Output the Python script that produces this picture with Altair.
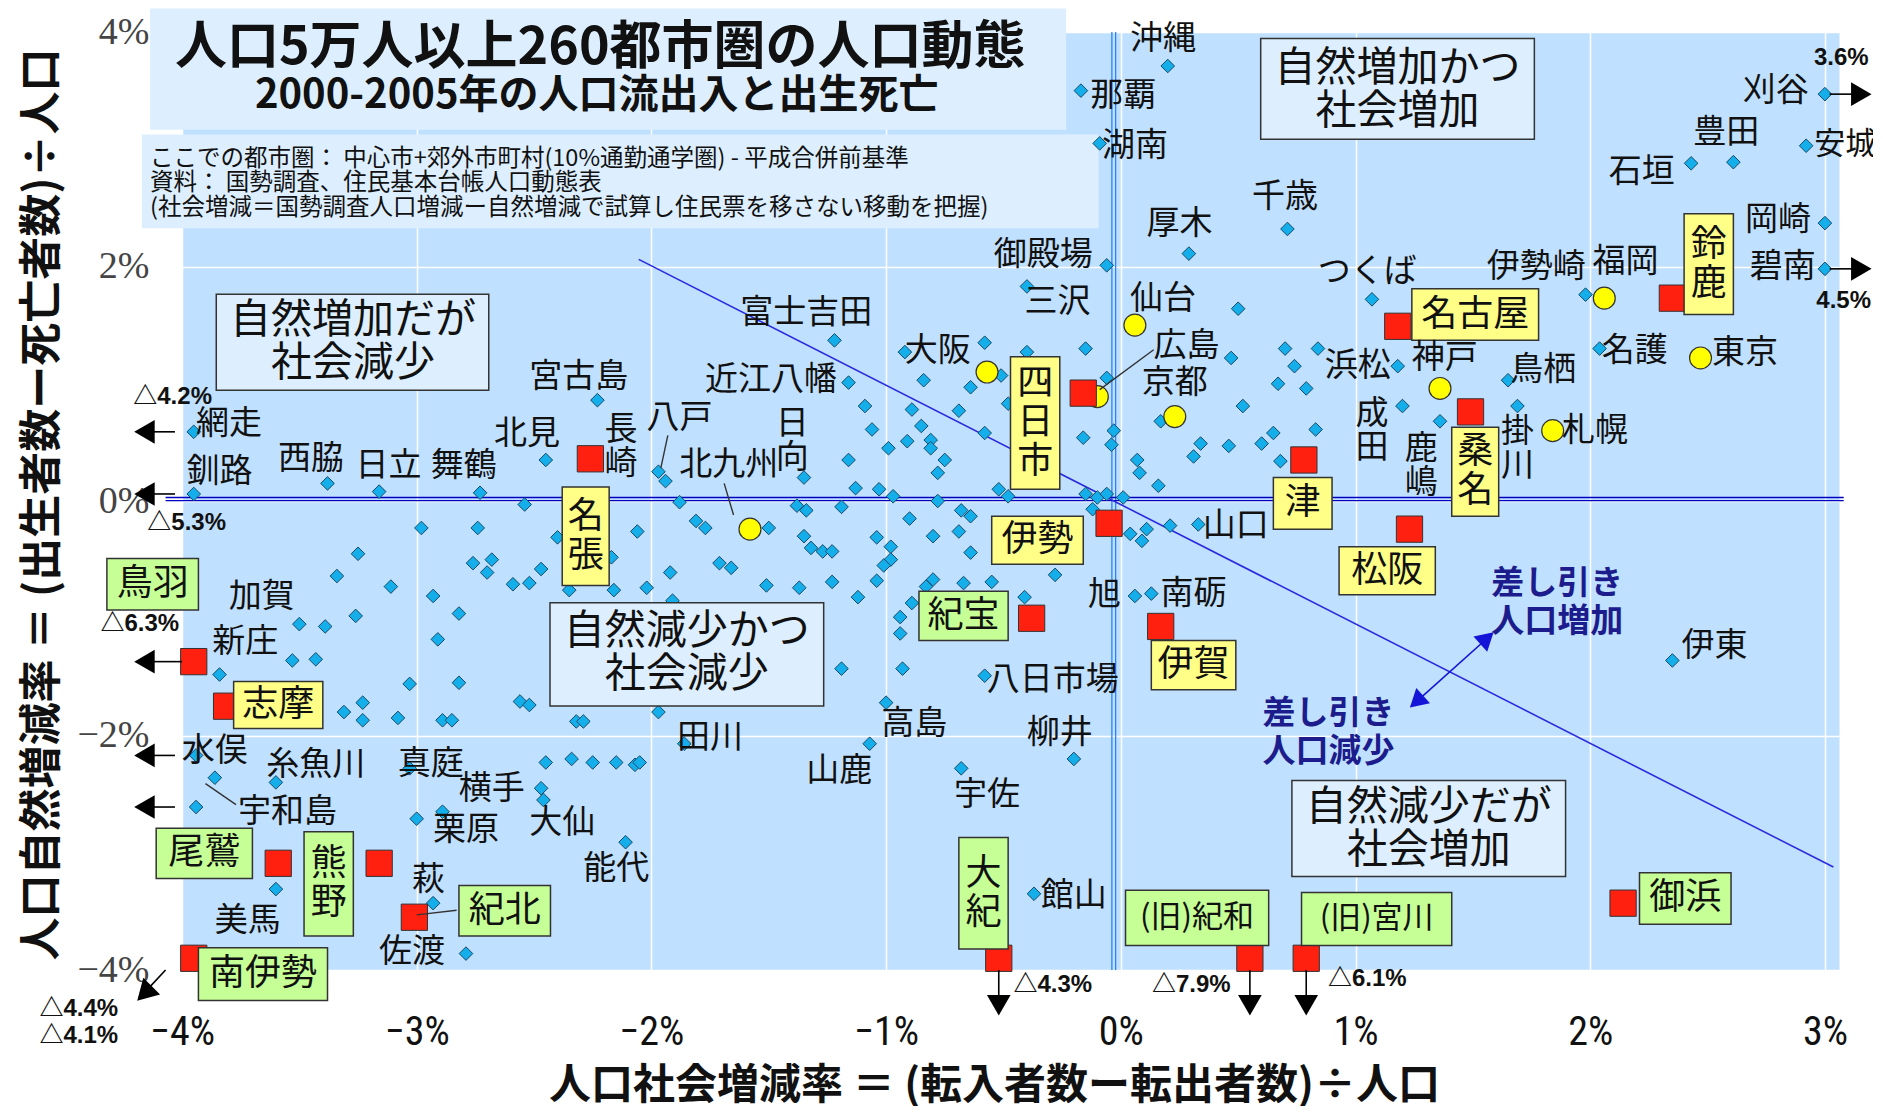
import altair as alt
import pandas as pd

JP = "Noto Sans CJK JP"
NARROW = "'Liberation Sans Narrow', 'Arial Narrow', 'Roboto Condensed', 'DejaVu Sans Condensed', 'Liberation Sans', sans-serif"
XS = alt.Scale(domain=[-4.0, 3.06], nice=False, zero=False)
YS = alt.Scale(domain=[-4.0, 4.0], nice=False, zero=False)
PLOT_W, PLOT_H = 1657, 938
Y_PER_PX = 8.0 / PLOT_H  # data units of y per pixel

# ---------------- data (social change %, natural change %) ----------------
diamonds = [
    (0.20, 3.71), (-0.17, 3.50), (-0.09, 3.05), (0.71, 2.32), (0.29, 2.11), (-0.06, 2.01),
    (-0.40, 1.83), (0.50, 1.64), (1.07, 1.72), (1.98, 1.76), (3.00, 1.98), (3.00, 2.37),
    (2.92, 3.03), (2.43, 2.88), (2.61, 2.89), (3.00, 3.47), (2.04, 1.30), (1.65, 1.03),
    (1.18, 1.15), (1.69, 0.81), (1.20, 0.81), (1.36, 0.68), (0.83, 0.61), (-1.22, 1.37),
    (-0.92, 1.27), (-0.58, 1.35), (-0.15, 1.30), (-0.40, 1.27), (-0.06, 1.05), (-1.16, 1.01),
    (-0.84, 1.03), (-0.64, 0.97), (-0.51, 1.07), (0.47, 1.22), (0.70, 1.30), (0.84, 1.30),
    (0.74, 1.15), (0.67, 1.00), (0.79, 0.96), (-1.09, 0.81), (-0.89, 0.78), (-0.69, 0.77),
    (-0.48, 0.83), (-1.06, 0.61), (-0.85, 0.64), (-0.58, 0.58), (-0.16, 0.54), (-0.03, 0.60),
    (-0.04, 0.48), (0.17, 0.68), (0.07, 0.35), (0.08, 0.24), (0.16, 0.13), (0.31, 0.38),
    (0.34, 0.49), (0.46, 0.47), (0.52, 0.81), (0.60, 0.49), (0.65, 0.58), (0.68, 0.34),
    (-0.81, 0.52), (-0.81, 0.45), (-0.75, 0.35), (-0.99, 0.45), (-0.91, 0.51), (-1.16, 0.35),
    (-1.35, 0.20), (-0.78, 0.24), (-1.13, 0.11), (-1.03, 0.10), (-0.97, 0.04), (-0.78, 0.00),
    (-0.52, 0.10), (-0.48, 0.04), (-0.15, 0.06), (-0.10, 0.03), (-0.06, 0.06), (0.01, 0.03),
    (-0.12, -0.07), (-1.38, -0.04), (-1.34, -0.08), (-1.19, -0.05), (-1.77, -0.23), (-1.50, -0.23),
    (-0.90, -0.15), (-0.68, -0.08), (-0.64, -0.13), (-0.69, -0.26), (-0.80, -0.30), (-0.64, -0.44),
    (-1.04, -0.31), (-0.98, -0.39), (-0.98, -0.50), (-1.01, -0.55), (-1.04, -0.68), (-1.35, -0.30),
    (-1.32, -0.40), (-1.27, -0.43), (-1.23, -0.43), (-1.71, -0.53), (-1.66, -0.57), (-1.51, -0.72),
    (-1.37, -0.74), (-1.23, -0.69), (-1.12, -0.82), (-0.80, -0.67), (-0.83, -0.73), (-0.67, -0.70),
    (-0.55, -0.69), (-0.28, -0.63), (-0.41, -0.82), (-0.89, -0.87), (-0.94, -0.99), (-0.94, -1.13),
    (-1.19, -1.43), (-0.93, -1.43), (-0.58, -1.49), (-1.00, -1.72), (-1.07, -2.07), (-0.68, -2.28),
    (-0.20, -2.20), (0.04, -0.28), (0.11, -0.24), (0.09, -0.34), (0.21, -0.21), (0.33, -0.20),
    (0.06, -0.81), (0.13, -0.79), (2.35, -1.36), (-0.37, -3.35),
    (-3.95, 0.59), (-3.95, 0.06), (-3.38, 0.15), (-3.16, 0.08), (-2.73, 0.07), (-2.45, 0.35),
    (-2.54, -0.03), (-1.97, 0.25), (-1.94, 0.17), (-1.88, -0.01), (-1.81, -0.17), (-2.98, -0.23),
    (-2.74, -0.23), (-2.40, -0.31), (-2.06, -0.26), (-2.17, -0.48), (-3.25, -0.45), (-2.76, -0.53),
    (-2.68, -0.50), (-2.70, -0.61), (-2.47, -0.58), (-2.59, -0.71), (-2.52, -0.70), (-3.34, -0.64),
    (-3.11, -0.73), (-2.93, -0.81), (-2.35, -0.76), (-2.16, -0.76), (-2.02, -0.74), (-1.92, -0.61),
    (-1.91, -0.85), (-3.50, -1.05), (-3.39, -1.07), (-3.26, -0.98), (-2.82, -0.96), (-2.91, -1.18),
    (-3.53, -1.36), (-3.43, -1.35), (-3.84, -1.48), (-3.31, -1.80), (-3.23, -1.72), (-3.23, -1.87),
    (-3.08, -1.85), (-3.03, -1.56), (-2.82, -1.55), (-2.89, -1.87), (-2.85, -1.87), (-2.56, -1.71),
    (-2.52, -1.74), (-2.32, -1.88), (-2.29, -1.88), (-1.97, -1.80), (-1.86, -2.07), (-3.94, -2.17),
    (-3.86, -2.36), (-3.60, -2.40), (-3.03, -2.28), (-2.45, -2.23), (-2.34, -2.20), (-2.25, -2.23),
    (-2.15, -2.23), (-2.07, -2.25), (-2.05, -2.23), (-2.47, -2.45), (-2.46, -2.55), (-3.94, -2.61),
    (-3.60, -3.31), (-3.00, -2.71), (-2.89, -2.65), (-2.11, -2.91), (-2.93, -3.43), (-2.79, -3.86),
    (-2.23, 0.86),
]

big_cities = ["仙台", "福岡", "東京", "神戸", "札幌", "大阪", "広島", "京都", "北九州"]
big_x = [0.06, 2.06, 2.47, 1.36, 1.84, -0.57, -0.10, 0.23, -1.58]
big_y = [1.50, 1.73, 1.22, 0.96, 0.60, 1.10, 0.89, 0.72, -0.24]

mie_cities = ["名古屋", "鈴鹿", "四日市", "桑名", "津", "松阪", "伊勢", "名張", "紀宝", "伊賀",
              "鳥羽", "志摩", "尾鷲", "熊野", "紀北", "南伊勢", "大紀", "紀和", "宮川", "御浜"]
mie_x = [1.18, 2.35, -0.16, 1.49, 0.78, 1.23, -0.05, -2.26, -0.38, 0.17,
         -3.95, -3.81, -3.59, -3.16, -3.01, -3.95, -0.52, 0.55, 0.79, 2.14]
mie_y = [1.49, 1.73, 0.92, 0.76, 0.35, -0.24, -0.19, 0.36, -1.00, -1.07,
         -1.37, -1.75, -3.09, -3.09, -3.55, -3.90, -3.90, -3.90, -3.90, -3.43]

city_labels = [
    ("沖縄", 0.18, 3.94), ("那覇", 0.01, 3.45), ("湖南", 0.06, 3.03), ("千歳", 0.70, 2.59),
    ("厚木", 0.25, 2.36), ("御殿場", -0.33, 2.10), ("三沢", -0.27, 1.70), ("仙台", 0.18, 1.72),
    ("つくば", 1.05, 1.95), ("富士吉田", -1.34, 1.60), ("大阪", -0.78, 1.28), ("広島", 0.28, 1.32),
    ("京都", 0.23, 1.01), ("宮古島", -2.31, 1.06), ("近江八幡", -1.49, 1.03), ("浜松", 1.01, 1.15),
    ("神戸", 1.38, 1.22), ("鳥栖", 1.80, 1.12), ("名護", 2.19, 1.28), ("東京", 2.66, 1.26),
    ("伊勢崎", 1.77, 2.00), ("福岡", 2.15, 2.04), ("石垣", 2.22, 2.81), ("豊田", 2.58, 3.14),
    ("刈谷", 2.79, 3.50), ("岡崎", 2.80, 2.40), ("碧南", 2.82, 2.00),
    ("札幌", 2.02, 0.60), ("掛\n川", 1.69, 0.44), ("成\n田", 1.07, 0.60), ("鹿\n嶋", 1.28, 0.30),
    ("網走", -3.80, 0.66), ("釧路", -3.84, 0.25), ("西脇", -3.45, 0.36), ("日立", -3.12, 0.30),
    ("舞鶴", -2.80, 0.30), ("北見", -2.53, 0.57), ("長\n崎", -2.13, 0.46), ("八戸", -1.88, 0.71),
    ("北九州", -1.67, 0.31), ("日\n向", -1.40, 0.51), ("山口", 0.49, -0.21), ("旭", -0.07, -0.80),
    ("南砺", 0.31, -0.79), ("八日市場", -0.29, -1.53), ("柳井", -0.26, -1.98), ("高島", -0.88, -1.90),
    ("山鹿", -1.20, -2.30), ("田川", -1.75, -2.02), ("宇佐", -0.57, -2.51), ("館山", -0.20, -3.37),
    ("伊東", 2.53, -1.24), ("加賀", -3.66, -0.82), ("新庄", -3.73, -1.20), ("水俣", -3.86, -2.13),
    ("糸魚川", -3.43, -2.25), ("真庭", -2.94, -2.24), ("横手", -2.68, -2.46), ("宇和島", -3.55, -2.65),
    ("栗原", -2.79, -2.81), ("大仙", -2.38, -2.75), ("萩", -2.95, -3.23), ("能代", -2.15, -3.14),
    ("美馬", -3.72, -3.58), ("佐渡", -3.02, -3.85),
]
edge_labels = [("安城", 2.955, 3.04)]  # left-aligned next to its point at the right edge

leaders = [(-1.69, 0.15, -1.65, -0.12), (-1.93, 0.56, -1.96, 0.28), (-3.90, -2.41, -3.77, -2.59),
           (0.14, 1.29, -0.09, 0.95), (-3.00, -3.53, -2.83, -3.49)]

YEL, GRN = "#ffff88", "#c6ff96"
boxed = [  # text, x1, x2, y1, y2, tx, ty, fill, size
    ("名古屋", 1.24, 1.78, 1.81, 1.37, 1.51, 1.59, YEL, 36),
    ("鈴\n鹿", 2.40, 2.61, 2.45, 1.59, 2.505, 2.02, YEL, 36),
    ("四\n日\n市", -0.47, -0.26, 1.23, 0.10, -0.365, 0.665, YEL, 36),
    ("桑\n名", 1.41, 1.61, 0.63, -0.13, 1.51, 0.25, YEL, 36),
    ("津", 0.65, 0.90, 0.20, -0.24, 0.775, -0.02, YEL, 36),
    ("松阪", 0.93, 1.34, -0.39, -0.80, 1.135, -0.595, YEL, 36),
    ("伊勢", -0.55, -0.16, -0.13, -0.54, -0.355, -0.335, YEL, 36),
    ("名\n張", -2.38, -2.18, 0.12, -0.72, -2.28, -0.30, YEL, 36),
    ("伊賀", 0.13, 0.49, -1.19, -1.61, 0.31, -1.40, YEL, 36),
    ("志摩", -3.78, -3.40, -1.54, -1.94, -3.59, -1.74, YEL, 36),
    ("鳥羽", -4.32, -3.93, -0.49, -0.93, -4.125, -0.71, GRN, 36),
    ("紀宝", -0.86, -0.48, -0.77, -1.19, -0.67, -0.98, GRN, 36),
    ("尾鷲", -4.11, -3.70, -2.79, -3.22, -3.905, -3.005, GRN, 36),
    ("熊\n野", -3.48, -3.27, -2.82, -3.71, -3.375, -3.265, GRN, 36),
    ("紀北", -2.82, -2.43, -3.28, -3.71, -2.625, -3.495, GRN, 36),
    ("南伊勢", -3.93, -3.38, -3.81, -4.26, -3.655, -4.035, GRN, 36),
    ("大\n紀", -0.69, -0.48, -2.87, -3.82, -0.585, -3.345, GRN, 36),
    ("(旧)紀和", 0.02, 0.63, -3.32, -3.79, 0.325, -3.555, GRN, 31),
    ("(旧)宮川", 0.77, 1.41, -3.34, -3.79, 1.09, -3.565, GRN, 31),
    ("御浜", 2.21, 2.60, -3.17, -3.61, 2.405, -3.39, GRN, 36),
]

quadrants = [  # text, x1, x2, y1, y2, tx, ty
    ("自然増加かつ\n社会増加", 0.596, 1.762, 3.945, 3.085, 1.179, 3.50),
    ("自然増加だが\n社会減少", -3.854, -2.693, 1.764, 0.944, -3.271, 1.354),
    ("自然減少かつ\n社会減少", -2.432, -1.266, -0.868, -1.749, -1.849, -1.30),
    ("自然減少だが\n社会増加", 0.729, 1.895, -2.384, -3.203, 1.312, -2.80),
]

# off-scale arrows: shaft (x1, y1, x2, y2) and head (x, y, angle)
arrow_shafts = [(-4.03, 0.59, -4.13, 0.59), (-4.03, 0.06, -4.13, 0.06), (-4.0, -1.37, -4.13, -1.37),
                (-4.03, -2.17, -4.13, -2.17), (-4.03, -2.61, -4.13, -2.61),
                (3.02, 3.47, 3.12, 3.47), (3.02, 1.98, 3.12, 1.98),
                (-0.52, -4.0, -0.52, -4.22), (0.55, -4.0, 0.55, -4.22), (0.79, -4.0, 0.79, -4.22),
                (-4.07, -4.0, -4.14, -4.15)]
arrow_heads = [(-4.16, 0.59, 270), (-4.16, 0.06, 270), (-4.16, -1.37, 270), (-4.16, -2.17, 270),
               (-4.16, -2.61, 270), (3.155, 3.47, 90), (3.155, 1.98, 90),
               (-0.52, -4.30, 180), (0.55, -4.30, 180), (0.79, -4.30, 180), (-4.16, -4.20, 225)]
offscale_text = [("△4.2%", -4.04, 0.89), ("△5.3%", -3.98, -0.19), ("△6.3%", -4.18, -1.05),
                 ("3.6%", 3.07, 3.78), ("4.5%", 3.08, 1.71), ("△4.3%", -0.29, -4.13),
                 ("△7.9%", 0.30, -4.13), ("△6.1%", 1.05, -4.08), ("△4.4%", -4.44, -4.33),
                 ("△4.1%", -4.44, -4.56)]

net_line = [(-2.054, 2.061, 3.036, -3.122)]
hlines = [(-4.07, 0.03, 3.08, 0.03), (-4.07, 0.003, 3.08, 0.003)]
vlines = [(-0.038, 4.0, -0.038, -4.0), (-0.022, 4.0, -0.022, -4.0)]
blue_shaft = [(1.236, -1.754, 1.585, -1.128)]
blue_heads = [(1.56, -1.17, 48), (1.26, -1.71, 228)]
blue_text = [("差し引き\n人口増加", 1.86, -0.87), ("差し引き\n人口減少", 0.885, -1.98)]

title_box = [(-4.136, -0.233, 4.20, 3.167), (-4.171, -0.095, 3.126, 2.327)]
title_text = [("人口5万人以上260都市圏の人口動態", -2.218, 3.863, 52),
              ("2000-2005年の人口流出入と出生死亡", -2.233, 3.454, 40)]
note_lines = [("ここでの都市圏： 中心市+郊外市町村(10%通勤通学圏) - 平成合併前基準", -4.136, 2.921),
              ("資料： 国勢調査、住民基本台帳人口動態表", -4.136, 2.716),
              ("(社会増減＝国勢調査人口増減ー自然増減で試算し住民票を移さない移動を把握)", -4.136, 2.501)]

x_ticks = [-4, -3, -2, -1, 0, 1, 2, 3]
y_ticks = [-4, -2, 0, 2, 4]
X_TITLE = "人口社会増減率 ＝ (転入者数ー転出者数)÷人口"
Y_TITLE = "人口自然増減率 ＝ (出生者数ー死亡者数)÷人口"

LE = "datum.value == 0 ? '0%' : (datum.value < 0 ? '−' + abs(datum.value) + '%' : datum.value + '%')"

XAX = alt.Axis(values=x_ticks, labelExpr=LE, grid=True, gridColor="#ffffff", gridWidth=1.5,
               ticks=False, domain=False, labelFont=NARROW, labelFontSize=40,
               labelColor="#111111", labelPadding=62, labelBaseline="middle", labelFlush=False,
               labelOverlap=False, title=X_TITLE, titleFont=JP, titleFontSize=42,
               titleFontWeight="bold", titleX=812, titleY=115, titleAlign="center",
               titleBaseline="middle", titleColor="#111111")
YAX = alt.Axis(values=y_ticks, labelExpr=LE, grid=True, gridColor="#ffffff", gridWidth=1.5,
               ticks=False, domain=False, labelFont="Liberation Serif", labelFontSize=38,
               labelColor="#444444", labelPadding=33, labelFlush=False, labelOverlap=False,
               title=Y_TITLE, titleFont=JP, titleFontSize=43, titleFontWeight="bold",
               titleX=-140, titleY=472, titleAlign="center", titleBaseline="middle",
               titleAngle=270, titleColor="#111111")


# ---------------- helpers ----------------
def enc(ch, x="x", y="y", x2=None, y2=None, **extra):
    e = {"x": alt.X(f"{x}:Q", scale=XS, axis=XAX), "y": alt.Y(f"{y}:Q", scale=YS, axis=YAX)}
    if x2:
        e["x2"] = alt.X2(x2)
    if y2:
        e["y2"] = alt.Y2(y2)
    e.update(extra)
    return ch.encode(**e)


def seg_df(rows):
    return pd.DataFrame(rows, columns=["x", "y", "x2", "y2"])


def center_lines(df, ycol, lh):
    """Vega places the first line at the anchor; shift so the block is centred."""
    df = df.copy()
    n = df["t"].str.count("\n")
    df[ycol] = df[ycol] + n * (lh / 2.0) * Y_PER_PX
    return df


layers = []

# title / note boxes
tb = pd.DataFrame(title_box, columns=["x", "x2", "y", "y2"])
layers.append(enc(alt.Chart(tb).mark_rect(fill="#ddefff"), x2="x2", y2="y2"))

# reference lines
layers.append(enc(alt.Chart(seg_df(vlines)).mark_rule(color="#2a80ff", strokeWidth=1.3), x2="x2", y2="y2"))
layers.append(enc(alt.Chart(seg_df(hlines)).mark_rule(color="#0000c0", strokeWidth=1.3), x2="x2", y2="y2"))
layers.append(enc(alt.Chart(seg_df(net_line)).mark_rule(color="#2a2ae0", strokeWidth=1.6), x2="x2", y2="y2"))

# points
dd = pd.DataFrame(diamonds, columns=["x", "y"])
layers.append(enc(alt.Chart(dd).mark_point(shape="diamond", filled=True, fill="#14aeea",
                                           stroke="#1a4a66", strokeWidth=1, size=185, opacity=1)))
bc = pd.DataFrame({"x": big_x, "y": big_y, "n": big_cities})
layers.append(enc(alt.Chart(bc).mark_circle(fill="#ffff00", stroke="#333333", strokeWidth=1.2,
                                            size=480, opacity=1)))
mc = pd.DataFrame({"x": mie_x, "y": mie_y, "n": mie_cities})
layers.append(enc(alt.Chart(mc).mark_square(fill="#ff2010", stroke="#333333", strokeWidth=1,
                                            size=690, opacity=1)))

# leader lines
layers.append(enc(alt.Chart(seg_df(leaders)).mark_rule(color="#333333", strokeWidth=1.4), x2="x2", y2="y2"))

# arrows
layers.append(enc(alt.Chart(seg_df(arrow_shafts)).mark_rule(color="#000000", strokeWidth=1.6), x2="x2", y2="y2"))
ah = pd.DataFrame(arrow_heads, columns=["x", "y", "a"])
layers.append(enc(alt.Chart(ah).mark_point(shape="triangle-up", filled=True, color="#000000",
                                           size=560, opacity=1),
                  angle=alt.Angle("a:Q", scale=None)))
layers.append(enc(alt.Chart(seg_df(blue_shaft)).mark_rule(color="#1414d8", strokeWidth=1.6), x2="x2", y2="y2"))
bh = pd.DataFrame(blue_heads, columns=["x", "y", "a"])
layers.append(enc(alt.Chart(bh).mark_point(shape="triangle-up", filled=True, color="#1414d8",
                                           size=420, opacity=1),
                  angle=alt.Angle("a:Q", scale=None)))

# quadrant boxes
qd = pd.DataFrame(quadrants, columns=["t", "x", "x2", "y", "y2", "tx", "ty"])
layers.append(enc(alt.Chart(qd).mark_rect(fill="#ddefff", stroke="#333333", strokeWidth=1.5),
                  x2="x2", y2="y2"))
QLH = 43
layers.append(enc(alt.Chart(center_lines(qd, "ty", QLH)).mark_text(
    font=JP, fontSize=41, lineHeight=QLH, lineBreak="\n", align="center", baseline="middle",
    color="#111111"), x="tx", y="ty", text="t:N"))

# boxed labels
bx = pd.DataFrame(boxed, columns=["t", "x", "x2", "y", "y2", "tx", "ty", "fill", "fs"])
layers.append(enc(alt.Chart(bx).mark_rect(stroke="#333333", strokeWidth=1.5), x2="x2", y2="y2",
                  fill=alt.Fill("fill:N", scale=None)))
for fs in sorted(set(bx["fs"])):
    lh = int(fs) + 3
    sub = center_lines(bx[bx["fs"] == fs], "ty", lh)
    layers.append(enc(alt.Chart(sub).mark_text(font=JP, fontSize=int(fs), lineHeight=lh,
                                               lineBreak="\n", align="center", baseline="middle",
                                               color="#111111"),
                      x="tx", y="ty", text="t:N"))

# city labels
CLH = 34
cl = center_lines(pd.DataFrame(city_labels, columns=["t", "x", "y"]), "y", CLH)
layers.append(enc(alt.Chart(cl).mark_text(font=JP, fontSize=33, lineHeight=CLH, lineBreak="\n",
                                          align="center", baseline="middle", color="#111111"),
                  text="t:N"))
el = pd.DataFrame(edge_labels, columns=["t", "x", "y"])
layers.append(enc(alt.Chart(el).mark_text(font=JP, fontSize=31, align="left", baseline="middle",
                                          color="#111111"),
                  text="t:N"))

# off-scale values
ot = pd.DataFrame(offscale_text, columns=["t", "x", "y"])
layers.append(enc(alt.Chart(ot).mark_text(font="Liberation Sans, " + JP, fontSize=24, fontWeight="bold",
                                          align="center", baseline="middle", color="#111111"),
                  text="t:N"))

# blue annotation
BLH = 38
bt = center_lines(pd.DataFrame(blue_text, columns=["t", "x", "y"]), "y", BLH)
layers.append(enc(alt.Chart(bt).mark_text(font=JP, fontSize=33, fontWeight="bold", lineHeight=BLH,
                                          lineBreak="\n", align="center", baseline="middle",
                                          color="#1c1c8c"),
                  text="t:N"))

# titles and notes
for t, x, y, fs in title_text:
    d = pd.DataFrame({"t": [t], "x": [x], "y": [y]})
    layers.append(enc(alt.Chart(d).mark_text(font=JP, fontSize=fs, fontWeight="bold",
                                             align="center", baseline="middle", color="#111111"),
                      text="t:N"))
nl = pd.DataFrame(note_lines, columns=["t", "x", "y"])
layers.append(enc(alt.Chart(nl).mark_text(font=JP, fontSize=23.5, align="left", baseline="middle",
                                          color="#111111"),
                  text="t:N"))

chart = alt.layer(*layers).properties(
    width=PLOT_W, height=PLOT_H,
    autosize=alt.AutoSizeParams(type="none"),
    padding={"left": 174, "top": 24, "right": 34, "bottom": 136},
    background="#ffffff",
).configure_view(fill="#c0e0ff", stroke="transparent")

chart.save("out.html", embed_options={"renderer": "svg", "actions": False})
